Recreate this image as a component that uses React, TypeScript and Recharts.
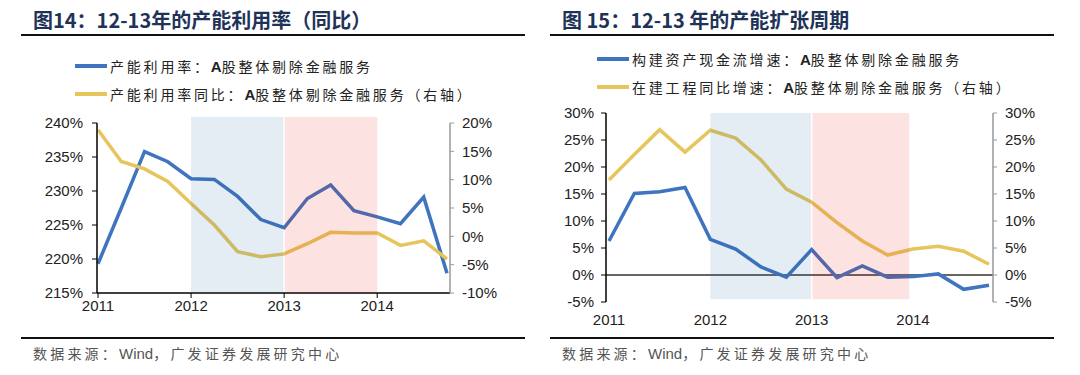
import { Line, LineChart, ReferenceArea, ReferenceLine, XAxis, YAxis } from "recharts";

// quarterly points, 2011Q1 .. 2014Q4
const quarters = [0, 1, 2, 3, 4, 5, 6, 7, 8, 9, 10, 11, 12, 13, 14, 15];
const yearTicks = [0, 4, 8, 12];
const yearLabels = ["2011", "2012", "2013", "2014"];

// chart 14
const capUtil = [219.3, 227.5, 235.8, 234.3, 231.8, 231.7, 229.2, 225.8, 224.6, 228.9, 230.9, 227.1, 226.2, 225.2, 229.1, 217.9];
const capUtilYoy = [18.8, 13.2, 11.9, 9.7, 5.8, 2.0, -2.7, -3.6, -3.1, -1.3, 0.7, 0.6, 0.6, -1.6, -0.8, -4.0];
const leftTicks14 = [215, 220, 225, 230, 235, 240];
const rightTicks14 = [-10, -5, 0, 5, 10, 15, 20];

// chart 15
const capexCash = [6.3, 15.1, 15.4, 16.2, 6.6, 4.8, 1.5, -0.4, 4.7, -0.5, 1.7, -0.4, -0.3, 0.2, -2.65, -1.9];
const cipYoy = [17.6, 22.3, 26.9, 22.75, 26.8, 25.35, 21.3, 15.9, 13.5, 9.7, 6.3, 3.7, 4.8, 5.3, 4.4, 2.0];
const ticks15 = [-5, 0, 5, 10, 15, 20, 25, 30];

// shaded periods (in quarter index)
const blueSpan = [4, 7.97];
const pinkSpan = [8.03, 12];

const BLUE = "#3F74BE";
const GOLD = "#E6C65C";
const SHADE_BLUE = "rgb(30,97,163)";
const SHADE_PINK = "rgb(238,13,13)";
const SHADE_OP = 0.12;
const NAVY = "#1F3358";

const data14 = quarters.map((q, i) => ({ q, a: capUtil[i], b: capUtilYoy[i] }));
const data15 = quarters.map((q, i) => ({ q, a: capexCash[i], b: cipYoy[i] }));

const tickFont = { fontSize: 15, fill: "#222", fontFamily: "Liberation Sans, Arial, sans-serif" };
const pct = (v: number) => `${v}%`;
const yearFmt = (v: number) => yearLabels[yearTicks.indexOf(v)] ?? "";

const cjk = "'Noto Sans CJK SC', sans-serif";
const latin = "'Liberation Sans', Arial, sans-serif";

function Title({ x, text }: { x: number; text: string }) {
  return (
    <div style={{ position: "absolute", left: x, top: 5, fontFamily: cjk, fontWeight: 700, fontSize: 20, color: NAVY, whiteSpace: "nowrap" }}>
      {text}
    </div>
  );
}

function Rule({ x, y, w }: { x: number; y: number; w: number }) {
  return <div style={{ position: "absolute", left: x, top: y, width: w, height: 2, background: "#111" }} />;
}

function LegendRow({ x, y, color, head, tail }: { x: number; y: number; color: string; head: string; tail: string }) {
  return (
    <div style={{ position: "absolute", left: x, top: y - 11, display: "flex", alignItems: "center", whiteSpace: "nowrap" }}>
      <div style={{ width: 32, height: 4, background: color, marginRight: 3 }} />
      <span style={{ fontFamily: cjk, fontSize: 14, letterSpacing: 2.8, color: "#222" }}>
        {head}
        <b style={{ fontFamily: latin, fontSize: 15, letterSpacing: 0 }}>A</b>
        {tail}
      </span>
    </div>
  );
}

function Source({ x }: { x: number }) {
  return (
    <div style={{ position: "absolute", left: x, top: 343, fontFamily: cjk, fontSize: 14, letterSpacing: 3.2, color: "#555", whiteSpace: "nowrap" }}>
      数据来源：<span style={{ fontFamily: latin, fontSize: 15, letterSpacing: 0 }}>Wind</span>，广发证券发展研究中心
    </div>
  );
}

function Chart14() {
  return (
    <LineChart width={520} height={215} data={data14} margin={{ top: 13, right: 10, bottom: 7, left: 0 }}>
      <XAxis
        dataKey="q"
        type="number"
        domain={[0, 15]}
        ticks={yearTicks}
        tickFormatter={yearFmt}
        padding={{ left: 1, right: 3 }}
        tick={tickFont}
        axisLine={{ stroke: "#000", strokeWidth: 1.5 }}
        tickLine={{ stroke: "#000" }}
        tickSize={5}
        height={25}
      />
      <YAxis
        yAxisId="l"
        domain={[215, 240]}
        ticks={leftTicks14}
        tickFormatter={pct}
        tick={tickFont}
        width={97}
        axisLine={{ stroke: "#000", strokeWidth: 1.5 }}
        tickLine={{ stroke: "#000" }}
        tickSize={5}
        tickMargin={9}
      />
      <YAxis
        yAxisId="r"
        orientation="right"
        domain={[-10, 20]}
        ticks={rightTicks14}
        tickFormatter={pct}
        tick={tickFont}
        width={60}
        axisLine={{ stroke: "#999", strokeWidth: 1.5 }}
        tickLine={{ stroke: "#999" }}
        tickSize={4}
        tickMargin={8}
      />
      <Line yAxisId="l" dataKey="a" stroke={BLUE} strokeWidth={3.5} dot={false} isAnimationActive={false} />
      <Line yAxisId="r" dataKey="b" stroke={GOLD} strokeWidth={3.5} dot={false} isAnimationActive={false} />
      <ReferenceArea zIndex={600} yAxisId="l" x1={blueSpan[0]} x2={blueSpan[1]} y1={215} y2={240.9} ifOverflow="visible" fill={SHADE_BLUE} fillOpacity={SHADE_OP} stroke="none" />
      <ReferenceArea zIndex={600} yAxisId="l" x1={pinkSpan[0]} x2={pinkSpan[1]} y1={215} y2={240.9} ifOverflow="visible" fill={SHADE_PINK} fillOpacity={SHADE_OP} stroke="none" />
    </LineChart>
  );
}

function Chart15() {
  return (
    <LineChart width={520} height={230} data={data15} margin={{ top: 13, right: 10, bottom: 4, left: 0 }}>
      <XAxis
        dataKey="q"
        type="number"
        domain={[0, 15]}
        ticks={yearTicks}
        tickFormatter={yearFmt}
        padding={{ left: 3, right: 4 }}
        tick={tickFont}
        axisLine={false}
        tickLine={false}
        tickMargin={6}
        height={24}
      />
      <YAxis
        yAxisId="l"
        domain={[-5, 30]}
        ticks={ticks15}
        tickFormatter={pct}
        tick={tickFont}
        width={66}
        axisLine={{ stroke: "#000", strokeWidth: 1.5 }}
        tickLine={{ stroke: "#000" }}
        tickSize={5}
        tickMargin={7}
      />
      <YAxis
        yAxisId="r"
        orientation="right"
        domain={[-5, 30]}
        ticks={ticks15}
        tickFormatter={pct}
        tick={tickFont}
        width={57}
        axisLine={{ stroke: "#999", strokeWidth: 1.5 }}
        tickLine={{ stroke: "#999" }}
        tickSize={4}
        tickMargin={8}
      />
      <ReferenceLine yAxisId="l" y={0} stroke="#333" strokeWidth={1.5} />
      <Line yAxisId="l" dataKey="a" stroke={BLUE} strokeWidth={3.5} dot={false} isAnimationActive={false} />
      <Line yAxisId="r" dataKey="b" stroke={GOLD} strokeWidth={3.5} dot={false} isAnimationActive={false} />
      <ReferenceArea zIndex={600} yAxisId="l" x1={blueSpan[0]} x2={blueSpan[1]} y1={-4.5} y2={30} fill={SHADE_BLUE} fillOpacity={SHADE_OP} stroke="none" />
      <ReferenceArea zIndex={600} yAxisId="l" x1={pinkSpan[0]} x2={11.85} y1={-4.5} y2={30} fill={SHADE_PINK} fillOpacity={SHADE_OP} stroke="none" />
    </LineChart>
  );
}

export default function App() {
  return (
    <div style={{ position: "absolute", left: 0, top: 0, width: 1080, height: 375, background: "#fff", overflow: "hidden" }}>
      <Title x={33} text="图14：12-13年的产能利用率（同比）" />
      <Title x={562} text="图 15：12-13 年的产能扩张周期" />
      <Rule x={21} y={34} w={504} />
      <Rule x={550} y={34} w={504} />

      <LegendRow x={75} y={67} color={BLUE} head="产能利用率：" tail="股整体剔除金融服务" />
      <LegendRow x={75} y={95} color={GOLD} head="产能利用率同比：" tail="股整体剔除金融服务（右轴）" />
      <LegendRow x={597} y={60} color={BLUE} head="构建资产现金流增速：" tail="股整体剔除金融服务" />
      <LegendRow x={597} y={88} color={GOLD} head="在建工程同比增速：" tail="股整体剔除金融服务（右轴）" />

      <div style={{ position: "absolute", left: 0, top: 110 }}>
        <Chart14 />
      </div>
      <div style={{ position: "absolute", left: 540, top: 100 }}>
        <Chart15 />
      </div>

      <Rule x={21} y={337} w={504} />
      <Rule x={550} y={337} w={504} />
      <Source x={33} />
      <Source x={562} />
    </div>
  );
}
